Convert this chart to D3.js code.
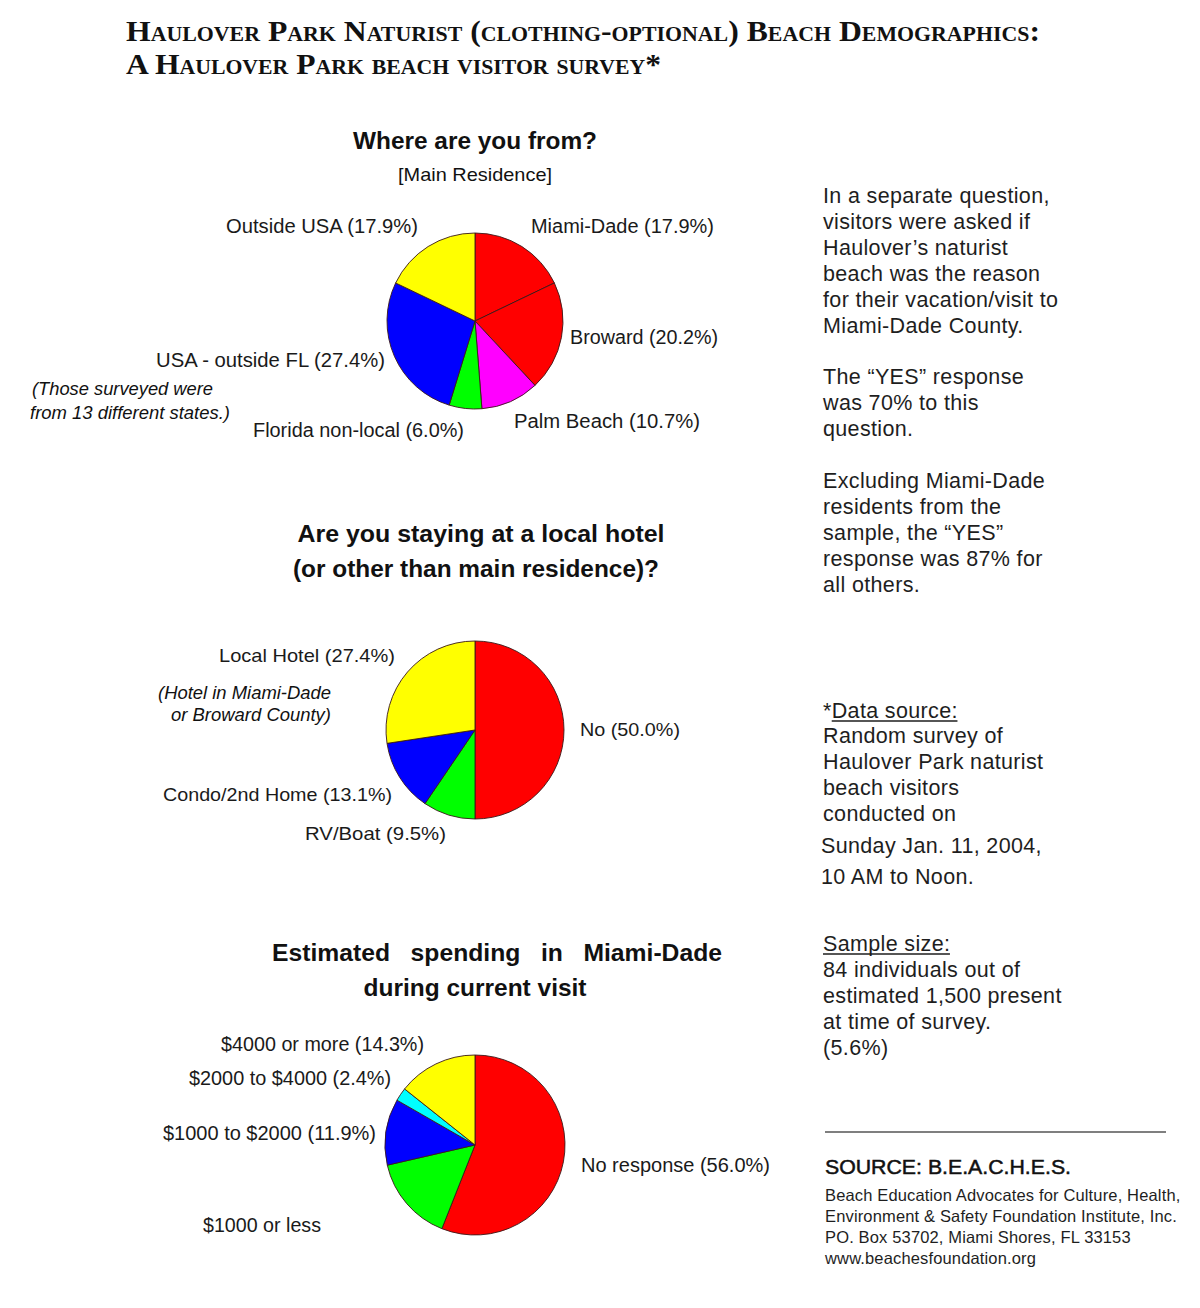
<!DOCTYPE html>
<html>
<head>
<meta charset="utf-8">
<script src="https://cdn.jsdelivr.net/npm/d3@7"></script>
<style>
  body { margin: 0; background: #fff; }
  svg { display: block; font-family: "Liberation Sans", Arial, sans-serif; }
  text { fill: #111; }
</style>
</head>
<body>
<svg width="1200" height="1308"></svg>
<script>
// --- data ---
var fromLabels = ["Miami-Dade", "Broward", "Palm Beach", "Florida non-local", "USA - outside FL", "Outside USA"];
var fromValues = [17.9, 20.2, 10.7, 6.0, 27.4, 17.9];

var stayLabels = ["No", "RV/Boat", "Condo/2nd Home", "Local Hotel"];
var stayValues = [50.0, 9.5, 13.1, 27.4];

var spendLabels = ["No response", "$1000 or less", "$1000 to $2000", "$2000 to $4000", "$4000 or more"];
var spendValues = [56.0, 15.4, 11.9, 2.4, 14.3];
var spendNoPct = ["$1000 or less"];   // printed without a percentage

var noteLines = [
  "In a separate question,", "visitors were asked if", "Haulover\u2019s naturist",
  "beach was the reason", "for their vacation/visit to", "Miami-Dade County."
];
var yesLines = ["The \u201cYES\u201d response", "was 70% to this", "question."];
var exclLines = ["Excluding Miami-Dade", "residents from the", "sample, the \u201cYES\u201d",
  "response was 87% for", "all others."];
var sourceLines = ["Random survey of", "Haulover Park naturist", "beach visitors", "conducted on"];
var dateLines = ["Sunday Jan. 11, 2004,", "10 AM to Noon."];
var sampleLines = ["84 individuals out of", "estimated 1,500 present", "at time of survey.", "(5.6%)"];
var creditLines = ["Beach Education Advocates for Culture, Health,",
  "Environment & Safety Foundation Institute, Inc.",
  "PO. Box 53702, Miami Shores, FL 33153",
  "www.beachesfoundation.org"];

// --- styling / layout ---
var fromColors = ["#ff0000", "#ff0000", "#ff00ff", "#00ff00", "#0000ff", "#ffff00"];
var stayColors = ["#ff0000", "#00ff00", "#0000ff", "#ffff00"];
var spendColors = ["#ff0000", "#00ff00", "#0000ff", "#00ffff", "#ffff00"];

// label boxes: left x, baseline y, width
var fromLabelPos = [[531, 233, 183], [570, 344, 148], [514, 428, 186], [253, 437, 211], [156, 367, 229], [226, 233, 192]];
var stayLabelPos = [[580, 736, 100], [305, 840, 141], [163, 801, 229], [219, 662, 176]];
var spendLabelPos = [[581, 1172, 189], [203, 1232, 118], [163, 1140, 213], [189, 1085, 202], [221, 1051, 203]];

var svg = d3.select("svg");

function put(s, x, y, o) {
  o = o || {};
  var t = svg.append("text")
    .attr("x", x).attr("y", y)
    .attr("font-size", o.size || 18)
    .attr("text-anchor", o.anchor || "start")
    .text(s);
  if (o.bold) t.attr("font-weight", "bold");
  if (o.italic) t.attr("font-style", "italic");
  if (o.family) t.style("font-family", o.family);
  if (o.w) t.attr("textLength", o.w).attr("lengthAdjust", "spacingAndGlyphs");
  if (o.fill) t.style("fill", o.fill);
  if (o.ls) t.style("letter-spacing", o.ls + "px");
  return t;
}

function drawPie(labels, values, colors, cx, cy, r, labelPos, fmt, size) {
  var color = d3.scaleOrdinal().domain(labels).range(colors);
  var pie = d3.pie().sort(null).value(function(d) { return d.v; });
  var arc = d3.arc().innerRadius(0).outerRadius(r);
  var rows = labels.map(function(l, i) { return { label: l, v: values[i] }; });

  svg.append("g")
    .attr("transform", "translate(" + cx + "," + cy + ")")
    .selectAll("path")
    .data(pie(rows))
    .enter()
    .append("path")
    .attr("d", arc)
    .attr("fill", function(d) { return color(d.data.label); })
    .attr("stroke", "#3a1a1a")
    .attr("stroke-width", 0.9)
    .attr("stroke-linejoin", "round");

  rows.forEach(function(d, i) {
    var p = labelPos[i];
    put(fmt(d), p[0], p[1], { size: size, w: p[2], fill: "#1a1a1a" });
  });
}

function pct(d) { return d.label + " (" + d.v.toFixed(1) + "%)"; }

// --- heading ---
var serif = "\"Liberation Serif\", \"Times New Roman\", serif";
put("Haulover Park Naturist (clothing-optional) Beach Demographics:", 126, 41,
    { size: 29, bold: true, family: serif, w: 914 }).style("font-variant", "small-caps");
put("A Haulover Park beach visitor survey*", 126, 74,
    { size: 29, bold: true, family: serif, w: 535 }).style("font-variant", "small-caps");

// --- pie 1 ---
put("Where are you from?", 475, 149, { size: 24, bold: true, anchor: "middle", w: 244 });
put("[Main Residence]", 475, 181, { size: 19, anchor: "middle", w: 154 });
drawPie(fromLabels, fromValues, fromColors, 475, 321, 88, fromLabelPos, pct, 19.5);
put("(Those surveyed were", 32, 395, { size: 18, italic: true, w: 181 });
put("from 13 different states.)", 30, 419, { size: 18, italic: true, w: 200 });

// --- pie 2 ---
put("Are you staying at a local hotel", 481, 542, { size: 23.5, bold: true, anchor: "middle", w: 367 });
put("(or other than main residence)?", 476, 577, { size: 23.5, bold: true, anchor: "middle", w: 366 });
drawPie(stayLabels, stayValues, stayColors, 475, 730, 89, stayLabelPos, pct, 18.5);
put("(Hotel in Miami-Dade", 331, 699, { size: 17.5, italic: true, anchor: "end", w: 173 });
put("or Broward County)", 331, 721, { size: 17.5, italic: true, anchor: "end", w: 160 });

// --- pie 3 ---
put("Estimated   spending   in   Miami-Dade", 497, 961, { size: 24, bold: true, anchor: "middle", w: 450 })
  .attr("xml:space", "preserve").style("white-space", "pre");
put("during current visit", 475, 996, { size: 24, bold: true, anchor: "middle", w: 223 });
drawPie(spendLabels, spendValues, spendColors, 475, 1145, 90, spendLabelPos, function(d) {
  return spendNoPct.indexOf(d.label) >= 0 ? d.label : pct(d);
}, 19.5);

// --- right-hand notes ---
var noteSize = 21.5, noteLs = 0.35;
function block(lines, x, y0, step) {
  lines.forEach(function(s, i) {
    put(s, x, y0 + i * step, { size: noteSize, ls: noteLs, fill: "#1e1e1e" });
  });
}
block(noteLines, 823, 203, 26);
block(yesLines, 823, 384, 26);
block(exclLines, 823, 488, 26);

var ds = put("*", 823, 718, { size: noteSize, ls: noteLs, fill: "#1e1e1e" });
var dsW = ds.node().getComputedTextLength();
var dl = put("Data source:", 823 + dsW, 718, { size: noteSize, ls: noteLs, fill: "#1e1e1e" });
svg.append("line").attr("x1", 823 + dsW).attr("x2", 823 + dsW + dl.node().getComputedTextLength() - noteLs)
  .attr("y1", 721).attr("y2", 721).attr("stroke", "#1e1e1e").attr("stroke-width", 1.3);
block(sourceLines, 823, 743, 26);
block(dateLines, 821, 853, 31);

var sl = put("Sample size:", 823, 951, { size: noteSize, ls: noteLs, fill: "#1e1e1e" });
svg.append("line").attr("x1", 823).attr("x2", 823 + sl.node().getComputedTextLength() - noteLs)
  .attr("y1", 954).attr("y2", 954).attr("stroke", "#1e1e1e").attr("stroke-width", 1.3);
block(sampleLines, 823, 977, 26);

svg.append("line").attr("x1", 825).attr("x2", 1166).attr("y1", 1132).attr("y2", 1132)
  .attr("stroke", "#555").attr("stroke-width", 1.5);
put("SOURCE: B.E.A.C.H.E.S.", 825, 1174, { size: 20.5, w: 246, fill: "#111" })
  .style("stroke", "#111").style("stroke-width", 0.5);
creditLines.forEach(function(s, i) {
  put(s, 825, 1201 + i * 21, { size: 16.5, ls: 0.15, fill: "#1e1e1e" });
});
</script>
</body>
</html>
